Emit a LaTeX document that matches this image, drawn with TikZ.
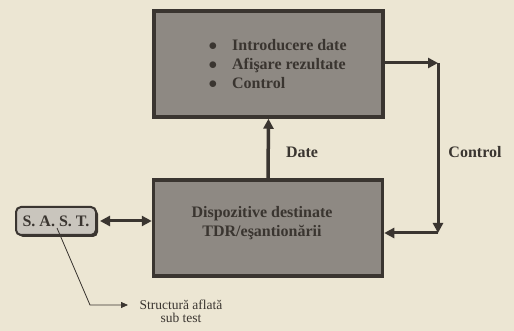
\documentclass[tikz,border=0pt]{standalone}
\usepackage{fontspec}
\setmainfont{Liberation Serif}
\usetikzlibrary{arrows.meta,shadows}
\definecolor{paper}{HTML}{ECE6D3}
\definecolor{boxgray}{HTML}{8E8983}
\definecolor{edge}{HTML}{3A3530}
\definecolor{sastgray}{HTML}{C9C5BD}
\tikzset{
 bigbox/.style={draw=edge,line width=3.5pt,fill=boxgray,minimum width=229pt,minimum height=106pt,inner sep=0pt},
 lab/.style={text=edge,font=\bfseries\fontsize{16}{19}\selectfont},
 arr/.style={draw=edge,line width=3pt,-{Triangle[length=10pt,width=10pt]}},
}
\begin{document}
\begin{tikzpicture}[x=1pt,y=-1pt]
 \fill[paper](0,0) rectangle (514,331);
 \useasboundingbox (0,0) rectangle (514,331);
 \node[bigbox] (ui) at (268.5,64) {};
 \node[lab,anchor=west] (items) at (205,66) {\begin{tabular}{@{}l@{\hspace{15pt}}l@{}}
  $\bullet$ & Introducere date\\
  $\bullet$ & Afişare rezultate\\
  $\bullet$ & Control
 \end{tabular}};
 \node[bigbox,minimum height=96pt] (dev) at (268,228) {};
 \node[lab,align=center] (devtxt) at (262,223) {Dispozitive destinate\\TDR/eşantionării};
 \node[draw=edge,line width=2pt,fill=sastgray,rounded corners=5pt,minimum width=80pt,minimum height=28pt,inner xsep=2pt,lab,
  drop shadow={shadow xshift=2pt,shadow yshift=-2pt,fill=edge,opacity=1}] (sast) at (56,221) {S. A. S. T.};
 \node[lab] (date) at (302,152) {Date};
 \node[lab] (ctrl) at (475,152) {Control};
 \node[text=edge,font=\fontsize{13.5}{13}\selectfont,align=center] (dut) at (181,311) {Structură aflată\\sub test};
 \coordinate (c1) at (438,63);
 \coordinate (c2) at (438,233);
 \coordinate (p0) at (57,228);
 \coordinate (p1) at (90,305);
 \coordinate (p2) at (128,305);
 \draw[arr,line width=3.5pt] (dev.north) -- (ui.south);
 \draw[arr] (ui.east |- c1) -- (c1);
 \draw[arr] (c1) -- (c2);
 \draw[arr] (c2) -- (dev.east |- c2);
 \draw[arr,{Triangle[length=10pt,width=10pt]}-{Triangle[length=10pt,width=10pt]}] (sast.east) ++(3,0) -- (sast.east -| dev.west);
 \draw[edge,line width=0.8pt,-{Triangle[length=7pt,width=6pt]}] (p0) -- (p1) -- (p2);
\end{tikzpicture}
\end{document}
